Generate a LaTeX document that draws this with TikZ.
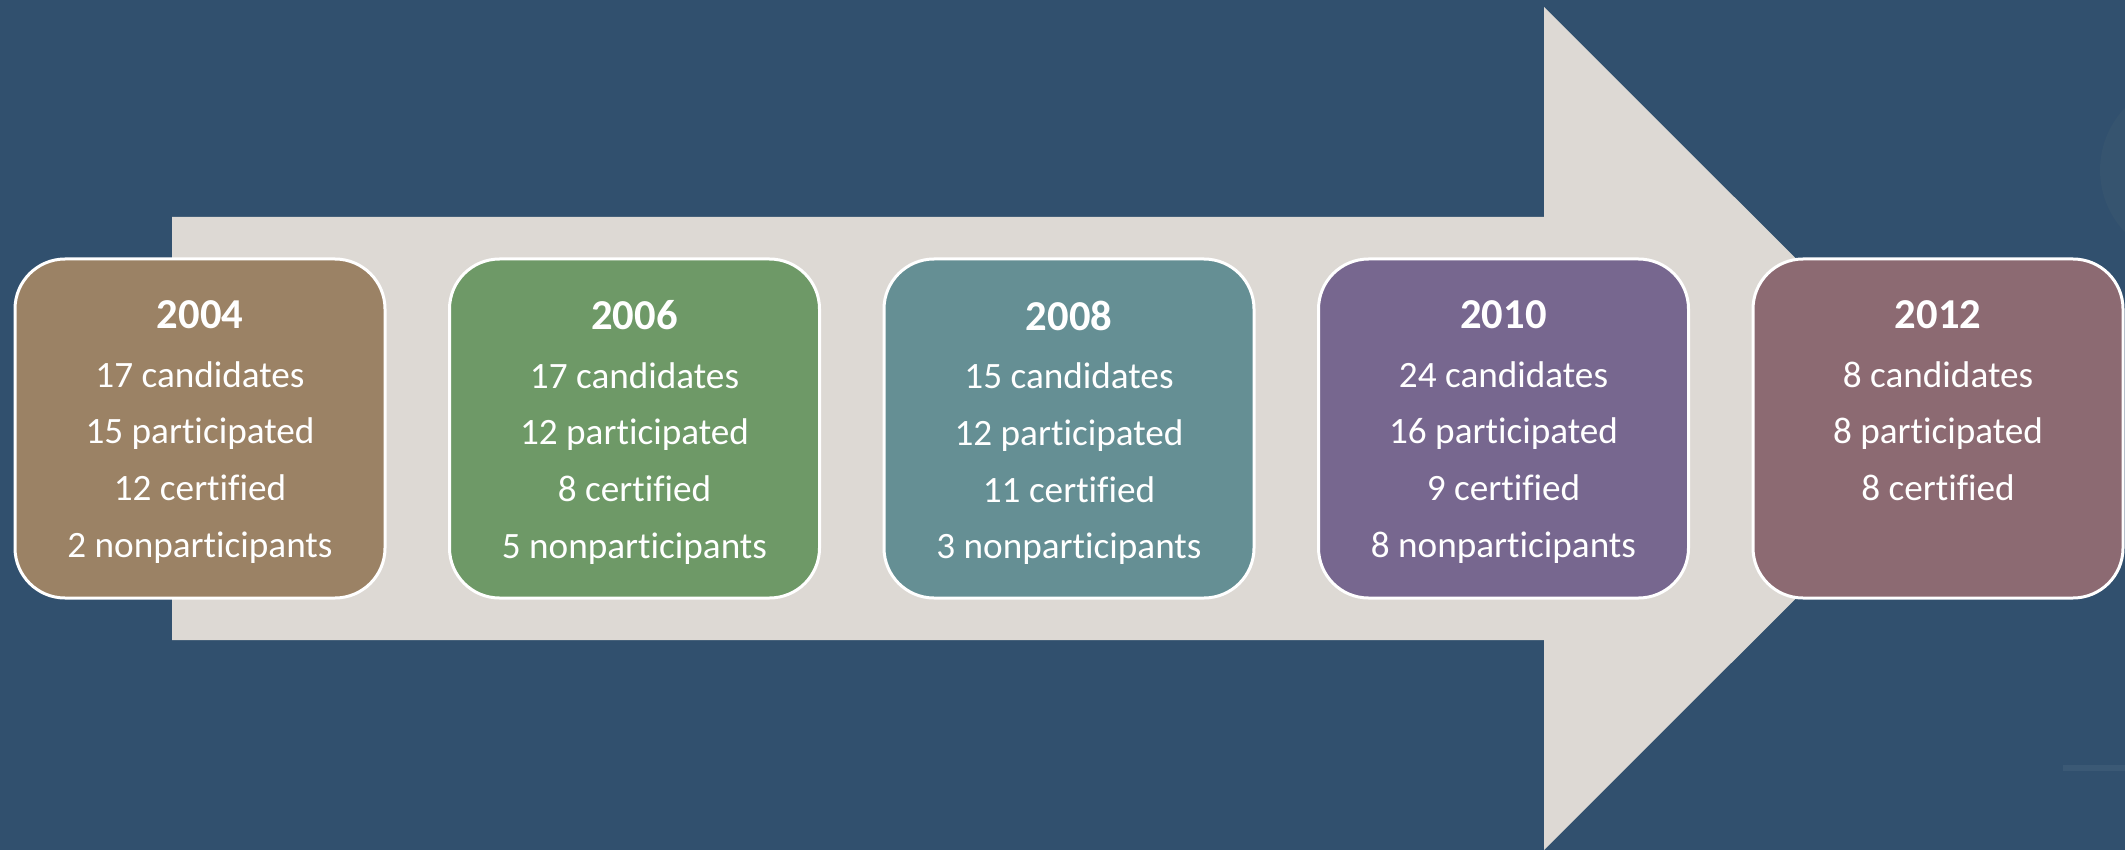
\documentclass[tikz,border=0pt]{standalone}
\usepackage{fontspec}
\setmainfont{Carlito}[Ligatures=NoCommon]
\definecolor{bgblue}{HTML}{31506E}
\definecolor{ringblue}{HTML}{36546F}
\definecolor{lineblue}{HTML}{3B5975}
\definecolor{arrowgrey}{HTML}{DDD9D4}
\definecolor{brownbox}{HTML}{9B8265}
\definecolor{greenbox}{HTML}{6E9967}
\definecolor{tealbox}{HTML}{658F94}
\definecolor{purplebox}{HTML}{77678F}
\definecolor{rosebox}{HTML}{8C6A72}
\tikzset{
  yearbox/.style={draw=white, line width=1.5pt, rounded corners=25pt,
    minimum width=185pt, minimum height=169.5pt, inner sep=0pt},
  yeartext/.style={anchor=north, align=center, text=white, inner sep=0pt,
    font=\fontsize{18.6}{28.35}\selectfont},
}
\newcommand{\yeartitle}[1]{{\bfseries\fontsize{21.3}{28.35}\selectfont #1}\\[0.8pt]}
\begin{document}
\begin{tikzpicture}[x=0.5pt,y=-0.5pt]
        \useasboundingbox (0,0) rectangle (2125,850);
        \fill[bgblue] (0,0) rectangle (2125,850);
        \begin{scope}
          \clip (0,0) rectangle (2125,850);
          \fill[ringblue] (2190,170) circle[radius=90];
        \end{scope}
        \draw[lineblue, line width=3pt] (2063,768) -- (2125,768);

        % the big arrow behind the boxes
        \fill[arrowgrey] (172,217) -- (1544,217) -- (1544,7) -- (1966,428.5)
          -- (1544,850) -- (1544,640) -- (172,640) -- cycle;

        \node[yearbox, fill=brownbox] (y2004) at (200,428.5) {};
        \node[yeartext] (t2004) at ([yshift=-21.5pt]y2004.north)
          {\yeartitle{2004}17 candidates\\15 participated\\12 certified\\2 nonparticipants};

        \node[yearbox, fill=greenbox] (y2006) at (634.5,428.5) {};
        \node[yeartext] (t2006) at ([yshift=-21.5pt]y2006.north)
          {\yeartitle{2006}17 candidates\\12 participated\\8 certified\\5 nonparticipants};

        \node[yearbox, fill=tealbox] (y2008) at (1069,428.5) {};
        \node[yeartext] (t2008) at ([yshift=-21.5pt]y2008.north)
          {\yeartitle{2008}15 candidates\\12 participated\\11 certified\\3 nonparticipants};

        \node[yearbox, fill=purplebox] (y2010) at (1503.5,428.5) {};
        \node[yeartext] (t2010) at ([yshift=-21.5pt]y2010.north)
          {\yeartitle{2010}24 candidates\\16 participated\\9 certified\\8 nonparticipants};

        \node[yearbox, fill=rosebox] (y2012) at (1938,428.5) {};
        \node[yeartext] (t2012) at ([yshift=-21.5pt]y2012.north)
          {\yeartitle{2012}8 candidates\\8 participated\\8 certified};
      \end{tikzpicture}
\end{document}
